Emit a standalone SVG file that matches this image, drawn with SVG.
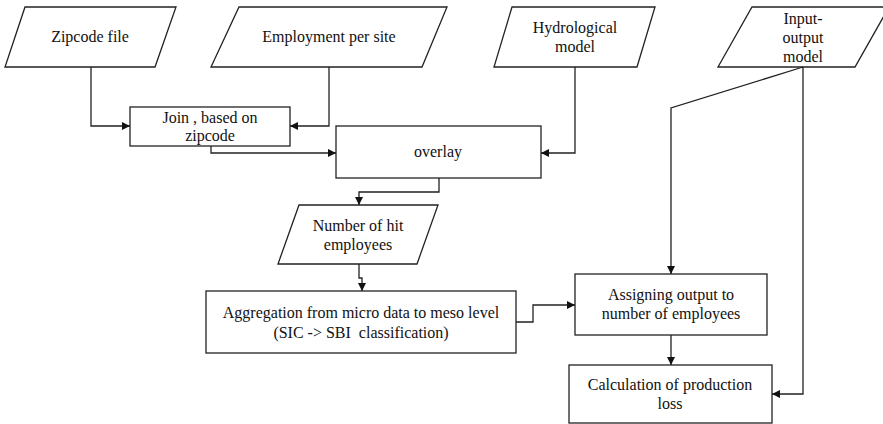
<svg xmlns="http://www.w3.org/2000/svg" width="883" height="424" viewBox="0 0 883 424">
<defs>
<marker id="arr" viewBox="0 0 10 10" refX="10" refY="5" markerWidth="8" markerHeight="8" markerUnits="userSpaceOnUse" orient="auto">
<path d="M0,0 L10,5 L0,10 z" fill="#111"/>
</marker>
</defs>
<style>
.shape{fill:#fff;stroke:#222;stroke-width:1.3}
text{font-family:"Liberation Serif","Times New Roman",serif;font-size:16px;fill:#111;text-anchor:middle}
.c{fill:none;stroke:#222;stroke-width:1.3}
.a{marker-end:url(#arr)}
</style>
<rect width="883" height="424" fill="#fff"/>
<g id="zipcode">
<polygon class="shape" points="25,7 176,7 155,67 5,67"/>
<text x="90" y="42">Zipcode file</text>
</g>
<g id="employment">
<polygon class="shape" points="239,7 447,7 422,67 211,67"/>
<text x="329" y="42">Employment per site</text>
</g>
<g id="hydrological">
<polygon class="shape" points="512,7 655,7 637,67 494,67"/>
<text x="575" y="33">Hydrological</text>
<text x="575" y="52">model</text>
</g>
<g id="inputoutput">
<polygon class="shape" points="752,7 889,7 855,67 718,67"/>
<text x="803" y="24">Input-</text>
<text x="803" y="43">output</text>
<text x="803" y="62">model</text>
</g>
<g id="join">
<rect class="shape" x="130" y="107" width="160" height="39"/>
<text x="210" y="123">Join , based on</text>
<text x="210" y="141">zipcode</text>
</g>
<g id="overlay">
<rect class="shape" x="336" y="126" width="205" height="52"/>
<text x="438" y="157">overlay</text>
</g>
<g id="hit">
<polygon class="shape" points="299,205 438,205 417,264 278,264"/>
<text x="358" y="231">Number of hit</text>
<text x="358" y="250">employees</text>
</g>
<g id="aggregation">
<rect class="shape" x="206" y="291" width="310" height="62"/>
<text x="361" y="318">Aggregation from micro data to meso level</text>
<text x="361" y="338" xml:space="preserve">(SIC -&gt; SBI  classification)</text>
</g>
<g id="assigning">
<rect class="shape" x="575" y="274" width="192" height="61"/>
<text x="671" y="300">Assigning output to</text>
<text x="671" y="319">number of employees</text>
</g>
<g id="calculation">
<rect class="shape" x="569" y="365" width="203" height="58"/>
<text x="670" y="390">Calculation of production</text>
<text x="670" y="409">loss</text>
</g>
<g id="connectors">
<polyline class="c a" points="91,67 91,126 130,126"/>
<polyline class="c a" points="329,67 329,126 290,126"/>
<polyline class="c a" points="211,146 211,153 336,153"/>
<polyline class="c a" points="575,67 575,153 541,153"/>
<polyline class="c a" points="439,178 439,192 359,192 359,205"/>
<polyline class="c a" points="359,264 359,278 362,278 362,291"/>
<polyline class="c a" points="516,322 533,322 533,305 575,305"/>
<polyline class="c a" points="803,67 671,108 671,274"/>
<polyline class="c a" points="803,67 803,394 772,394"/>
<polyline class="c a" points="671,335 671,365"/>
</g>
</svg>
